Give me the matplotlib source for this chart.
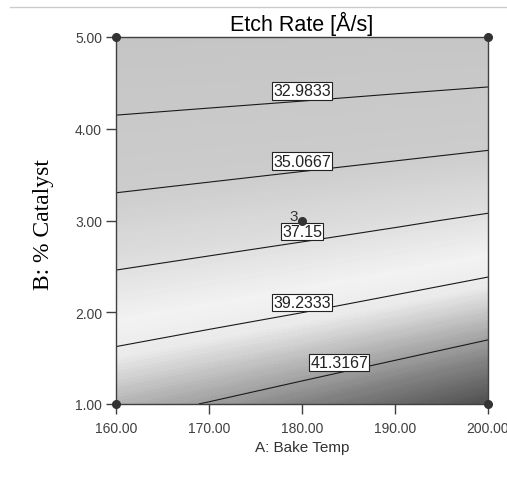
import numpy as np
import matplotlib
matplotlib.use("Agg")
import matplotlib.pyplot as plt
from matplotlib.colors import LinearSegmentedColormap
from matplotlib.lines import Line2D

# factor settings (A: Bake Temp, B: % Catalyst)
bake_temp = [160.0, 170.0, 180.0, 190.0, 200.0]
catalyst = [1.0, 2.0, 3.0, 4.0, 5.0]

# etch rate, rows = catalyst, cols = bake temp
etch_rate = [
    [40.81, 41.38, 42.02, 42.72, 43.49],
    [38.29, 38.74, 39.22, 39.77, 40.38],
    [35.81, 36.15, 36.52, 36.93, 37.39],
    [33.35, 33.56, 33.80, 34.06, 34.35],
    [30.88, 31.00, 31.09, 31.23, 31.35],
]

contour_levels = [32.9833, 35.0667, 37.15, 39.2333, 41.3167]
label_temps = [180.0, 180.0, 180.0, 180.0, 184.0]

# design points
design_temp = [160.0, 200.0, 160.0, 200.0, 180.0]
design_cat = [5.0, 5.0, 1.0, 1.0, 3.0]

x_ticks = [160, 170, 180, 190, 200]
y_ticks = [1, 2, 3, 4, 5]

plt.rcParams['font.family'] = ['Liberation Sans', 'DejaVu Sans']

fig = plt.figure(figsize=(5.07, 4.85), dpi=100)
ax = fig.add_axes([116 / 507, 1 - 405 / 485, 372 / 507, 367 / 485])

A, B = np.meshgrid(bake_temp, catalyst)
Z = np.array(etch_rate)

# grayscale version of the usual blue-green-red ramp
gray = LinearSegmentedColormap.from_list('etch', [
    (0.00, (0.77, 0.77, 0.77)),
    (0.33, (0.80, 0.80, 0.80)),
    (0.48, (0.87, 0.87, 0.87)),
    (0.60, (0.95, 0.95, 0.95)),
    (0.67, (0.92, 0.92, 0.92)),
    (0.76, (0.72, 0.72, 0.72)),
    (0.85, (0.52, 0.52, 0.52)),
    (1.00, (0.24, 0.24, 0.24)),
])
ax.contourf(A, B, Z, levels=np.linspace(30.5, 44.0, 150), cmap=gray,
            vmin=30.5, vmax=44.0, antialiased=False)
cs = ax.contour(A, B, Z, levels=contour_levels, colors='#1a1a1a', linewidths=0.8)

# boxed labels sitting on the lines
for lev, segs, t in zip(contour_levels, cs.allsegs, label_temps):
    seg = max(segs, key=len)
    order = np.argsort(seg[:, 0])
    b = np.interp(t, seg[order, 0], seg[order, 1])
    ax.text(t, b + 0.03, f'{lev:g}', ha='center', va='bottom', fontsize=11.5,
            color='#222222',
            bbox=dict(boxstyle='square,pad=0.08', facecolor='white',
                      edgecolor='#222222', linewidth=0.8), zorder=5)

ax.plot(design_temp, design_cat, 'o', color='#333333', markersize=5.5,
        clip_on=False, zorder=6)
ax.annotate('3', (design_temp[-1], design_cat[-1]), xytext=(-3, 3),
            textcoords='offset points', ha='right', va='center', fontsize=11,
            color='#333333')

ax.set_xlim(160, 200)
ax.set_ylim(1, 5)
ax.set_xticks(x_ticks)
ax.set_xticklabels([f'{v:.2f}' for v in x_ticks])
ax.set_yticks(y_ticks)
ax.set_yticklabels([f'{v:.2f}' for v in y_ticks])
ax.tick_params(direction='out', length=7, width=1, colors='#404040',
               labelsize=10, labelcolor='#404040')
ax.tick_params(axis='x', pad=5)
ax.tick_params(axis='y', pad=3)
for sp in ax.spines.values():
    sp.set_color('#404040')
    sp.set_linewidth(1)

ax.set_title('Etch Rate [Å/s]', fontsize=15.5, pad=5)
ax.set_xlabel('A: Bake Temp', fontsize=11, color='#333333')
ax.xaxis.set_label_coords(0.5, -0.097)
ax.set_ylabel('B: % Catalyst', fontsize=17, family='Liberation Serif')
ax.yaxis.set_label_coords(-0.166, 0.493)

fig.add_artist(Line2D([10 / 507, 1], [1 - 8 / 485, 1 - 8 / 485],
                      color='#cccccc', linewidth=1))

fig.savefig('out.png', dpi=100)
